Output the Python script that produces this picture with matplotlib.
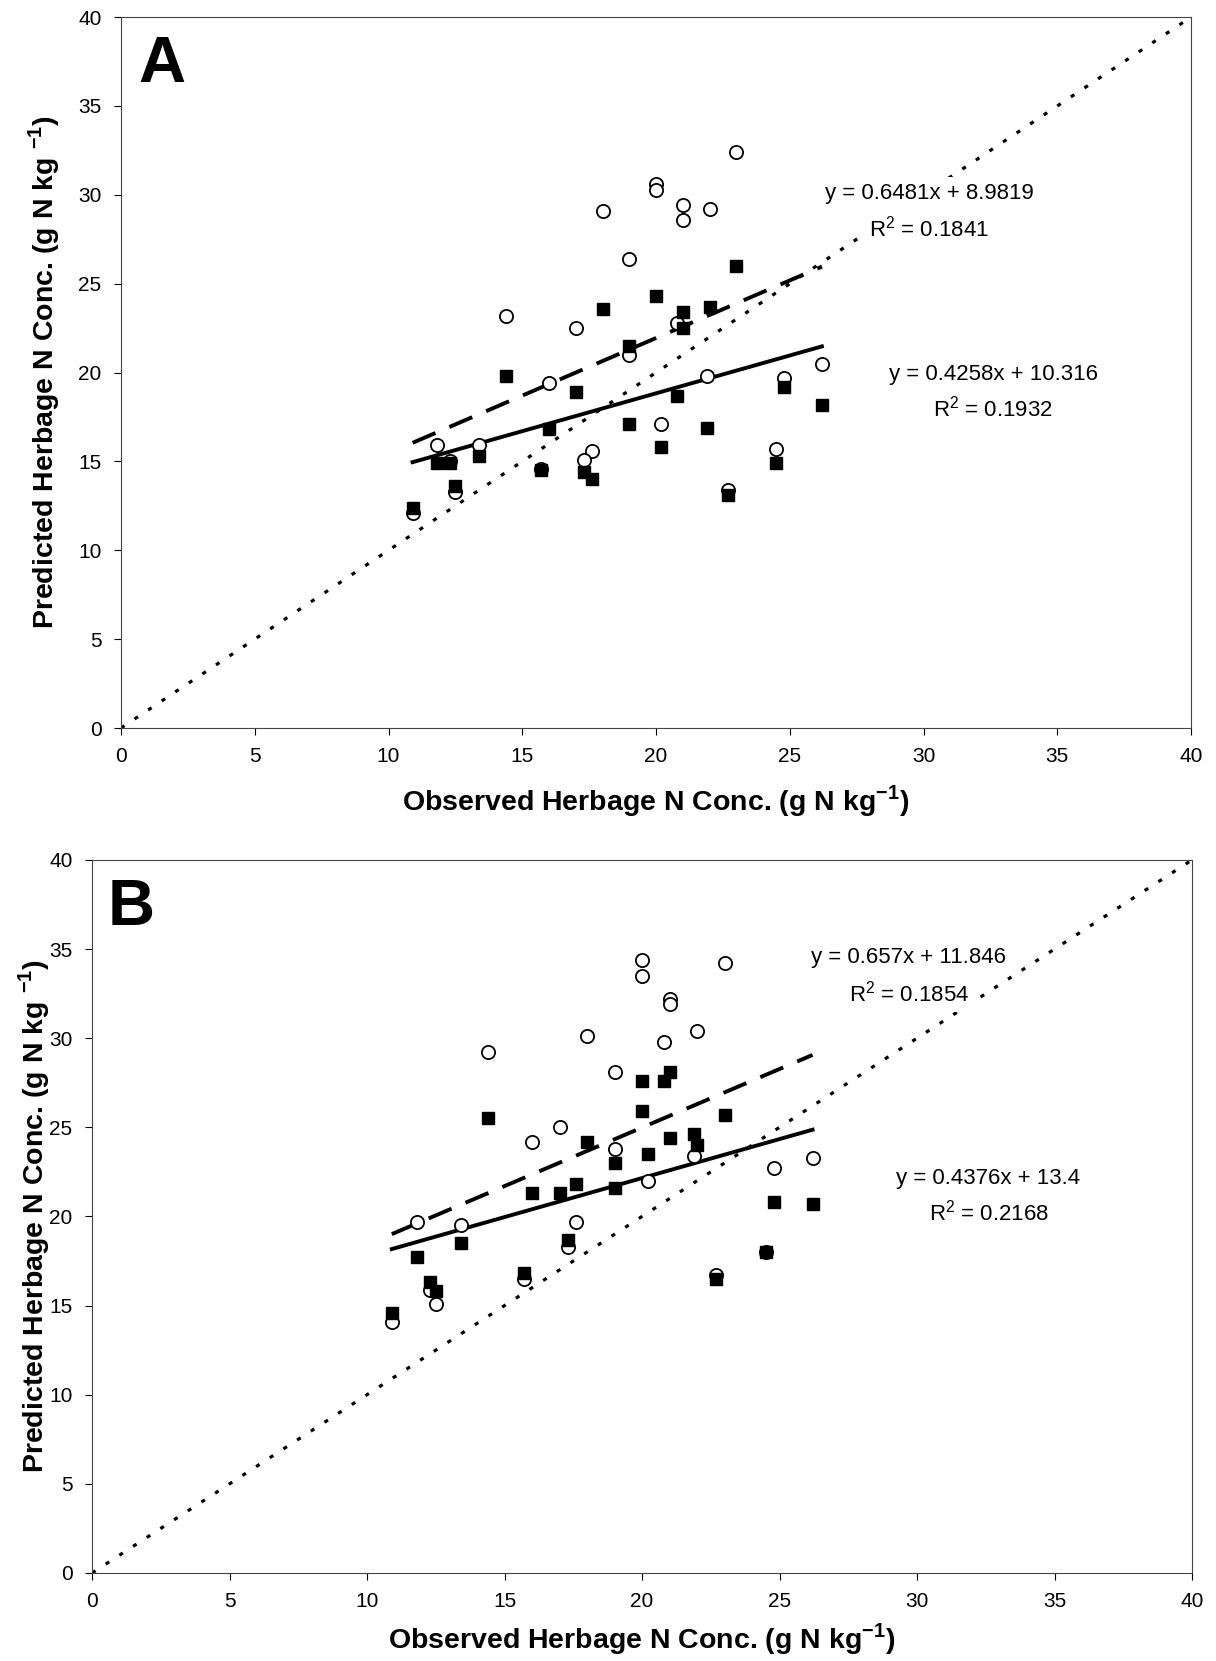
import matplotlib
matplotlib.use("Agg")
import matplotlib.pyplot as plt

plt.rcParams['font.family'] = ['Liberation Sans', 'DejaVu Sans']
plt.rcParams['mathtext.fontset'] = 'custom'
plt.rcParams['mathtext.rm'] = 'Liberation Sans'
plt.rcParams['mathtext.bf'] = 'Liberation Sans:bold'

# Panel A
a_circle_x = [23.0, 20.0, 20.0, 18.0, 21.0, 21.0, 22.0, 19.0, 14.4, 17.0, 20.8, 19.0, 16.0,
              21.9, 26.2, 24.8, 20.2, 11.8, 13.4, 17.6, 17.3, 24.5, 12.5, 22.7, 10.9, 12.3, 15.7]
a_circle_y = [32.4, 30.6, 30.3, 29.1, 29.4, 28.6, 29.2, 26.4, 23.2, 22.5, 22.8, 21.0, 19.4,
              19.8, 20.5, 19.7, 17.1, 15.9, 15.9, 15.6, 15.1, 15.7, 13.3, 13.4, 12.1, 15.0, 14.6]
a_square_x = [23.0, 20.0, 18.0, 21.0, 22.0, 21.0, 19.0, 14.4, 17.0, 20.8, 26.2, 24.8, 19.0,
              21.9, 16.0, 20.2, 11.8, 12.3, 13.4, 15.7, 17.3, 17.6, 24.5, 12.5, 22.7, 10.9]
a_square_y = [26.0, 24.3, 23.6, 23.4, 23.7, 22.5, 21.5, 19.8, 18.9, 18.7, 18.2, 19.2, 17.1,
              16.9, 16.8, 15.8, 14.9, 14.9, 15.3, 14.5, 14.4, 14.0, 14.9, 13.6, 13.1, 12.4]
a_fit_circle = (0.6481, 8.9819, 0.1841)
a_fit_square = (0.4258, 10.316, 0.1932)

# Panel B
b_circle_x = [20.0, 20.0, 23.0, 21.0, 21.0, 18.0, 22.0, 20.8, 14.4, 19.0, 17.0, 16.0, 19.0, 21.9,
              26.2, 24.8, 20.2, 11.8, 13.4, 17.6, 15.7, 17.3, 10.9, 12.5, 12.3, 22.7, 24.5]
b_circle_y = [34.4, 33.5, 34.2, 32.2, 31.9, 30.1, 30.4, 29.8, 29.2, 28.1, 25.0, 24.2, 23.8, 23.4,
              23.3, 22.7, 22.0, 19.7, 19.5, 19.7, 16.5, 18.3, 14.1, 15.1, 15.9, 16.7, 18.0]
b_square_x = [21.0, 20.0, 20.8, 20.0, 14.4, 23.0, 18.0, 21.0, 21.9, 22.0, 20.2, 19.0, 16.0, 17.0,
              17.6, 19.0, 24.8, 26.2, 13.4, 11.8, 15.7, 17.3, 10.9, 12.3, 12.5, 22.7, 24.5]
b_square_y = [28.1, 27.6, 27.6, 25.9, 25.5, 25.7, 24.2, 24.4, 24.6, 24.0, 23.5, 23.0, 21.3, 21.3,
              21.8, 21.6, 20.8, 20.7, 18.5, 17.7, 16.8, 18.7, 14.6, 16.3, 15.8, 16.5, 18.0]
b_fit_circle = (0.657, 11.846, 0.1854)
b_fit_square = (0.4376, 13.4, 0.2168)

ticks = [0, 5, 10, 15, 20, 25, 30, 35, 40]


def fit_line(ax, xs, fit, **kw):
    x0, x1 = min(xs), max(xs)
    ax.plot([x0, x1], [fit[0] * x0 + fit[1], fit[0] * x1 + fit[1]], **kw)


def eq_text(ax, fit, x, y, dy):
    box = dict(facecolor='white', edgecolor='none', pad=4)
    ax.text(x, y, 'y = %sx + %s' % (fit[0], fit[1]), ha='center', va='center',
            fontsize=16, zorder=6, bbox=box)
    ax.text(x, y - dy, r'R$^{2}$ = %s' % fit[2], ha='center', va='center',
            fontsize=16, zorder=6, bbox=box)


def panel(ax, letter, cx, cy, sx, sy, fc, fs, pos1, pos2, ylab_x, xlab_y, letter_x):
    ax.plot([0, 40], [0, 40], color='black', lw=2.3, dashes=(1.3, 3.8), zorder=2)
    fit_line(ax, cx, fc, color='black', lw=2.8, dashes=(6.4, 3.9), zorder=2)
    fit_line(ax, sx, fs, color='black', lw=2.8, zorder=2)
    ax.plot(cx, cy, 'o', mfc='white', mec='black', mew=1.3, ms=9.5, ls='none', zorder=3)
    ax.plot(sx, sy, 's', color='black', ms=8.3, ls='none', zorder=4)
    eq_text(ax, fc, pos1[0], pos1[1], 2.0)
    eq_text(ax, fs, pos2[0], pos2[1], 1.95)
    ax.set_xlim(0, 40)
    ax.set_ylim(0, 40)
    ax.set_xticks(ticks)
    ax.set_yticks(ticks)
    ax.tick_params(direction='out', length=5, width=0.8, labelsize=15, pad=9)
    for sp in ax.spines.values():
        sp.set_linewidth(0.8)
        sp.set_color('#444444')
    ax.set_xlabel(r'Observed Herbage N Conc. (g N kg$^{\mathbf{-1}}$)', fontsize=20.5, fontweight='bold')
    ax.set_ylabel(r'Predicted Herbage N Conc. (g N kg $^{\mathbf{-1}}$)', fontsize=20.5, fontweight='bold')
    ax.yaxis.set_label_coords(ylab_x, 0.5)
    ax.xaxis.set_label_coords(0.5, xlab_y)
    ax.text(letter_x, 0.975, letter, transform=ax.transAxes, ha='left', va='top',
            fontsize=47, fontweight='bold')


def main():
    fig = plt.figure(figsize=(12.16, 16.61), dpi=100)
    ax_a = fig.add_axes([0.0995, 0.5617, 0.880, 0.428])
    ax_b = fig.add_axes([0.0757, 0.053, 0.9046, 0.4293])
    panel(ax_a, 'A', a_circle_x, a_circle_y, a_square_x, a_square_y,
          a_fit_circle, a_fit_square, (30.2, 30.1), (32.6, 19.9), -0.055, -0.078, 0.016)
    panel(ax_b, 'B', b_circle_x, b_circle_y, b_square_x, b_square_y,
          b_fit_circle, b_fit_square, (29.7, 34.5), (32.6, 22.15), -0.036, -0.068, 0.0145)
    fig.savefig('out.png', dpi=100)


if __name__ == "__main__":
    main()
